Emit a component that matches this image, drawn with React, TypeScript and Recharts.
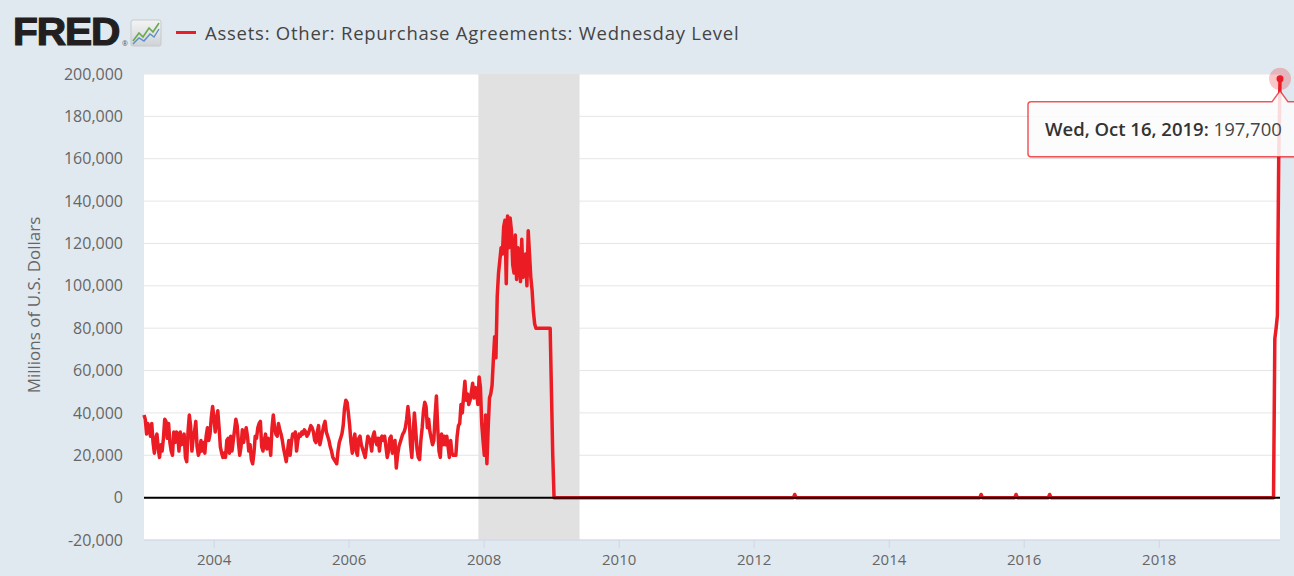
import React from 'react';
import {
  LineChart, Line, XAxis, YAxis, CartesianGrid, ReferenceArea, ReferenceLine, ReferenceDot,
} from 'recharts';

// ---- Data ----
const seriesName = 'Assets: Other: Repurchase Agreements: Wednesday Level';
const yAxisTitle = 'Millions of U.S. Dollars';
const weeklyStart = '2002-12-18';
// Weekly Wednesday levels, starting at weeklyStart (millions of US dollars)
const weeklyValues: number[] = [
  39000, 37000, 30000, 35000, 33000, 29000, 35000, 26000, 21000, 28000,
  30000, 23000, 19000, 25000, 22000, 28000, 37000, 36000, 28000, 35000,
  26000, 22000, 20000, 31000, 26000, 31000, 30000, 22000, 31000, 25000,
  28000, 30000, 19000, 17000, 31000, 39000, 34000, 22000, 28000, 31000,
  36000, 24000, 20000, 22000, 27000, 22000, 26000, 21000, 29000, 33000,
  27000, 30000, 38000, 43000, 38000, 31000, 36000, 41000, 33000, 24000,
  21000, 19000, 21000, 19000, 27000, 28000, 21000, 29000, 22000, 27000,
  32000, 37000, 34000, 26000, 20000, 24000, 32000, 26000, 30000, 33000,
  29000, 22000, 25000, 18000, 16000, 21000,
  29000, 28000, 33000, 35000, 36000, 24000, 22000, 27000, 30000, 23000,
  28000, 26000, 20000, 33000, 39000, 33000, 30000, 29000, 35000, 32000,
  30000, 27000, 23000, 20000, 17000, 22000, 27000, 20000, 26000, 30000,
  29000, 31000, 22000, 27000, 30000, 29000, 31000, 30000, 32000, 31000,
  29000, 30000, 32000, 34000, 33000, 31000, 27000, 26000, 31000, 34000,
  25000, 28000, 31000, 34000, 36000, 31000, 29000, 27000, 24000, 22000,
  19000, 18000, 17000, 16000, 22000, 26000, 28000, 30000, 34000, 42000,
  46000, 45000, 40000, 34000, 26000, 21000, 27000, 30000, 22000, 20000,
  28000, 29000, 25000, 23000,
  21000, 19000, 24000, 29000, 28000, 26000, 22000, 29000, 31000, 27000,
  25000, 28000, 22000, 28000, 29000, 27000, 29000, 24000, 19000, 22000,
  28000, 29000, 21000, 25000, 27000, 14000, 20000, 24000, 26000, 28000,
  30000, 31000, 33000, 37000, 43000, 37000, 25000, 19000, 30000, 40000,
  32000, 23000, 19000, 18000, 27000, 33000, 41000, 45000, 43000, 33000,
  37000, 31000, 28000, 25000, 27000, 39000, 48000, 33000, 22000, 19000,
  30000, 25000, 29000, 25000, 29000, 24000, 19000, 27000, 21000, 20000,
  20000, 20000, 29000,
  34000, 35000, 44000, 40000, 48000, 55000, 46000, 49000, 44000, 46000,
  50000, 54000, 47000, 52000, 50000, 44000, 57000, 52000, 35000, 27000,
  20000, 39000, 16000, 33000, 47000, 49000, 53000, 65000, 76000, 66000,
  95000, 106000, 112000, 118000, 115000, 128000, 131000, 101000, 133000, 118000,
  132000, 126000, 110000, 106000, 124000, 103000, 118000, 116000, 102000, 122000,
  104000, 112000, 115000, 100000, 126000, 115000, 104000, 98000, 88000, 82000,
  80000, 80000, 80000, 80000, 80000, 80000, 80000, 80000, 80000, 80000,
  80000, 80000, 50000, 20000, 0,
];
const laterDates: string[] = [
  '2009-02-04', '2012-08-01', '2012-08-08', '2012-08-15',
  '2015-05-06', '2015-05-13', '2015-05-20',
  '2015-11-11', '2015-11-18', '2015-11-25',
  '2016-05-11', '2016-05-18', '2016-05-25',
  '2019-09-11', '2019-09-18', '2019-09-25', '2019-10-02', '2019-10-09', '2019-10-16',
];
const laterValues: number[] = [
  0, 0, 1500, 0,
  0, 1500, 0,
  0, 1500, 0,
  0, 1500, 0,
  0, 75000, 80000, 86000, 160000, 197700,
];
const xTickYears = [2004, 2006, 2008, 2010, 2012, 2014, 2016, 2018];
const yTickValues = [-20000, 0, 20000, 40000, 60000, 80000, 100000, 120000, 140000, 160000, 180000, 200000];
const recessionStart = '2007-12-01';
const recessionEnd = '2009-06-01';

// ---- helpers ----
const DAY = 86400000;
function yearFrac(ms: number): number {
  const d = new Date(ms);
  const y = d.getUTCFullYear();
  const s = Date.UTC(y, 0, 1);
  const e = Date.UTC(y + 1, 0, 1);
  return y + (ms - s) / (e - s);
}
function isoMs(iso: string): number {
  return new Date(iso + 'T00:00:00Z').getTime();
}
const startMs = isoMs(weeklyStart);
const data = [
  ...weeklyValues.map((v, i) => ({ ms: startMs + i * 7 * DAY, value: v })),
  ...laterDates.map((d, i) => ({ ms: isoMs(d), value: laterValues[i] })),
].map((p) => ({ ...p, t: yearFrac(p.ms) }));

const last = data[data.length - 1];
const WD = ['Sun', 'Mon', 'Tue', 'Wed', 'Thu', 'Fri', 'Sat'];
const MO = ['Jan', 'Feb', 'Mar', 'Apr', 'May', 'Jun', 'Jul', 'Aug', 'Sep', 'Oct', 'Nov', 'Dec'];
const lastDate = new Date(last.ms);
const lastLabel = `${WD[lastDate.getUTCDay()]}, ${MO[lastDate.getUTCMonth()]} ${lastDate.getUTCDate()}, ${lastDate.getUTCFullYear()}:`;

const RED = '#ec1c24';
const FONT = '"Open Sans", "Noto Sans", sans-serif';

const fmt = (v: number) => v.toLocaleString('en-US');

function TooltipShape(props: any) {
  const { cx, cy } = props;
  if (cx == null || cy == null) return null;
  const left = cx - 252;
  const top = cy + 23;
  const right = cx + 40;
  const bottom = cy + 78;
  const path = `M${left + 3},${top} L${cx - 8},${top} L${cx},${top - 11} L${cx + 8},${top} L${right},${top} L${right},${bottom} L${left + 3},${bottom} Q${left},${bottom} ${left},${bottom - 3} L${left},${top + 3} Q${left},${top} ${left + 3},${top} Z`;
  return (
    <g>
      <path d={path} transform="translate(1,2)" fill="#000" fillOpacity={0.08} />
      <path d={path} fill="#ffffff" fillOpacity={0.85} stroke={RED} strokeOpacity={0.75} strokeWidth={1.5} />
      <text x={left + 17} y={top + 34} fontFamily={FONT} fontSize={18.5} fill="#333">
        <tspan fontWeight={600}>{lastLabel}</tspan>
        <tspan fill="#444"> {fmt(last.value)}</tspan>
      </text>
      <circle cx={cx} cy={cy} r={11} fill={RED} fillOpacity={0.25} />
      <circle cx={cx} cy={cy} r={3.5} fill={RED} />
    </g>
  );
}

function FredIcon() {
  return (
    <svg width={32} height={28} viewBox="0 0 32 28">
      <defs>
        <linearGradient id="ig" x1="0" y1="0" x2="0" y2="1">
          <stop offset="0" stopColor="#f4f4f4" />
          <stop offset="1" stopColor="#cfd3d6" />
        </linearGradient>
      </defs>
      <rect x={1} y={1} width={30} height={26} rx={2} fill="url(#ig)" stroke="#c5c9cc" />
      <polyline points="3,22 9,14 13,18 19,9 23,13 29,4" fill="none" stroke="#6aa84f" strokeWidth={1.6} />
      <polyline points="3,25 9,19 14,22 20,15 24,18 29,10" fill="none" stroke="#5b8fc7" strokeWidth={1.4} />
    </svg>
  );
}

export default function App() {
  return (
    <div style={{ position: 'absolute', left: 0, top: 0, width: 1294, height: 576, background: '#e1e9f0', overflow: 'hidden', fontFamily: FONT }}>
      {/* Header */}
      <div style={{ position: 'absolute', left: 13, top: 12, fontFamily: '"Liberation Sans", Arial, sans-serif', fontWeight: 700, fontSize: 38, lineHeight: '40px', color: '#231f20', letterSpacing: -1, WebkitTextStroke: '1.2px #231f20', transform: 'scaleX(1.07)', transformOrigin: 'left center' }}>FRED</div>
      <div style={{ position: 'absolute', left: 122, top: 40, fontSize: 7, lineHeight: '8px', color: '#555' }}>®</div>
      <div style={{ position: 'absolute', left: 130, top: 19 }}><FredIcon /></div>
      <div style={{ position: 'absolute', left: 176, top: 31, width: 20, height: 3, background: RED }} />
      <div style={{ position: 'absolute', left: 205, top: 19, fontSize: 18.5, lineHeight: '28px', letterSpacing: 0.75, color: '#444', whiteSpace: 'nowrap' }}>{seriesName}</div>
      {/* Y axis title */}
      <div style={{ position: 'absolute', left: 33, top: 305, transform: 'translate(-50%, -50%) rotate(-90deg)', fontSize: 17, color: '#666', whiteSpace: 'nowrap' }}>{yAxisTitle}</div>
      <div style={{ position: 'absolute', left: 0, top: 0 }}>
        <LineChart width={1294} height={576} data={data} margin={{ top: 74, right: 14, bottom: 0, left: 0 }}>
          <CartesianGrid vertical={false} stroke="#e6e6e6" fill="#ffffff" />
          <ReferenceArea x1={yearFrac(isoMs(recessionStart))} x2={yearFrac(isoMs(recessionEnd))} fill="#e1e1e1" fillOpacity={1} stroke="none" />
          <XAxis
            type="number"
            dataKey="t"
            domain={[data[0].t, last.t]}
            ticks={xTickYears}
            tickFormatter={(v: number) => String(v)}
            height={36}
            tickSize={8}
            tickMargin={6}
            axisLine={{ stroke: '#ccd6eb' }}
            tickLine={{ stroke: '#ccd6eb' }}
            tick={{ fill: '#666', fontSize: 15, fontFamily: FONT }}
            interval={0}
          />
          <YAxis
            type="number"
            domain={[-20000, 200000]}
            ticks={yTickValues}
            tickFormatter={fmt}
            width={144}
            axisLine={false}
            tickLine={false}
            tickSize={0}
            tickMargin={21}
            tick={{ fill: '#666', fontSize: 16, fontFamily: FONT }}
            interval={0}
          />
          <Line type="linear" dataKey="value" stroke={RED} strokeWidth={3.5} dot={false} isAnimationActive={false} strokeLinejoin="round" />
          <ReferenceLine y={0} stroke="#000" strokeWidth={2} />
          <ReferenceDot x={last.t} y={last.value} r={11} shape={TooltipShape} />
        </LineChart>
      </div>
    </div>
  );
}
